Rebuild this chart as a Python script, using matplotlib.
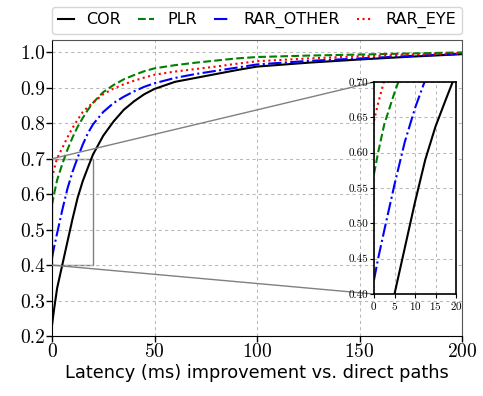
import matplotlib
matplotlib.use("Agg")
import matplotlib.pyplot as plt
from mpl_toolkits.axes_grid1.inset_locator import mark_inset

plt.rcParams['axes.formatter.use_mathtext'] = True

latency = [0, 1, 2.5, 5, 7.5, 10, 12.5, 15, 17.5, 20, 25, 30, 35, 40, 45, 50, 60, 70, 80, 90, 100, 125, 150, 175, 200]
cor = [0.23, 0.275, 0.335, 0.40, 0.465, 0.53, 0.59, 0.637, 0.675, 0.712, 0.765, 0.805, 0.838, 0.862, 0.882, 0.897,
       0.917, 0.928, 0.939, 0.950, 0.960, 0.971, 0.980, 0.988, 0.995]
plr = [0.57, 0.60, 0.64, 0.685, 0.725, 0.76, 0.79, 0.815, 0.838, 0.858, 0.888, 0.908, 0.924, 0.936, 0.947, 0.955,
       0.964, 0.971, 0.977, 0.983, 0.987, 0.991, 0.994, 0.997, 1.0]
rar_other = [0.42, 0.45, 0.49, 0.555, 0.615, 0.663, 0.703, 0.74, 0.772, 0.797, 0.832, 0.857, 0.875, 0.890, 0.903,
             0.913, 0.928, 0.939, 0.948, 0.957, 0.966, 0.976, 0.983, 0.990, 0.996]
rar_eye = [0.645, 0.67, 0.702, 0.73, 0.76, 0.787, 0.81, 0.832, 0.846, 0.858, 0.882, 0.898, 0.910, 0.920, 0.929,
           0.937, 0.946, 0.953, 0.960, 0.968, 0.975, 0.983, 0.989, 0.994, 0.998]

series = [("COR", cor, 'black', '-'),
          ("PLR", plr, 'green', '--'),
          ("RAR_OTHER", rar_other, 'blue', '-.'),
          ("RAR_EYE", rar_eye, 'red', ':')]

grid_kw = dict(linestyle=(0, (3, 3)), color='#b8b8b8', linewidth=0.75)

fig = plt.figure(figsize=(4.83, 3.96), dpi=100)
ax = fig.add_axes([52/483, 1 - 336/396, 410/483, 296/396])

for name, vals, c, ls in series:
    ax.plot(latency, vals, color=c, linestyle=ls, linewidth=1.5, label=name)

ax.set_xlim(0, 200)
ax.set_ylim(0.2, 1.035)
ax.set_xticks([0, 50, 100, 150, 200])
ax.set_yticks([0.2, 0.3, 0.4, 0.5, 0.6, 0.7, 0.8, 0.9, 1.0])
ax.set_yticklabels(['0.2', '0.3', '0.4', '0.5', '0.6', '0.7', '0.8', '0.9', '1.0'])
for lab in ax.get_xticklabels() + ax.get_yticklabels():
    lab.set_fontfamily('cmr10')
    lab.set_fontsize(14)
ax.tick_params(direction='out', length=4, width=1, pad=1)
ax.grid(True, **grid_kw)
ax.spines['top'].set_color('#555555')
ax.spines['right'].set_color('#555555')
ax.set_xlabel('Latency (ms) improvement vs. direct paths', fontsize=12.8, labelpad=2)

ax.legend(loc='lower left', bbox_to_anchor=(0, 1.02, 1, 0.1), ncol=4, fontsize=11.5,
          handlelength=1.0, columnspacing=1.0, handletextpad=0.8, borderaxespad=0.0,
          borderpad=0.35, frameon=True, mode='expand')

axins = fig.add_axes([374/483, 1 - 294/396, 82/483, 212/396])
for name, vals, c, ls in series:
    axins.plot(latency, vals, color=c, linestyle=ls, linewidth=1.5)
axins.set_xlim(0, 20)
axins.set_ylim(0.40, 0.70)
axins.set_xticks([0, 5, 10, 15, 20])
axins.set_yticks([0.40, 0.45, 0.50, 0.55, 0.60, 0.65, 0.70])
axins.set_yticklabels(['0.40', '0.45', '0.50', '0.55', '0.60', '0.65', '0.70'])
for lab in axins.get_xticklabels() + axins.get_yticklabels():
    lab.set_fontfamily('cmr10')
    lab.set_fontsize(8)
axins.tick_params(direction='out', length=3, pad=1)
axins.grid(True, **grid_kw)
for s in axins.spines.values():
    s.set_linewidth(1.2)

mark_inset(ax, axins, loc1=2, loc2=3, fc='none', ec='0.5', lw=1)

fig.savefig('out.png', dpi=100)
